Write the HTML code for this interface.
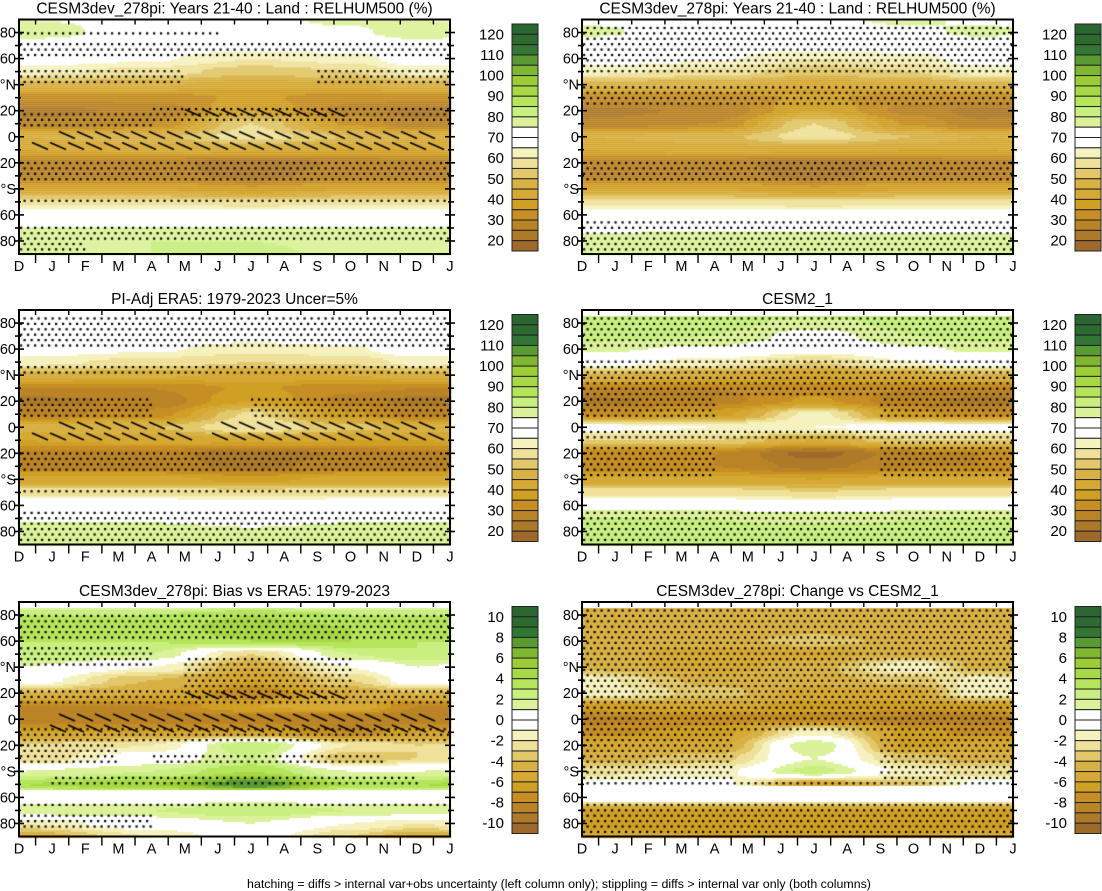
<!DOCTYPE html>
<html><head><meta charset="utf-8">
<style>
html,body{margin:0;padding:0;background:#fff;}
#wrap{position:relative;width:1102px;height:891px;overflow:hidden;font-family:"Liberation Sans",Arial,sans-serif;}
canvas{position:absolute;left:0;top:0;}
svg{position:absolute;left:0;top:0;}
</style></head>
<body>
<div id="wrap">
<canvas id="cv" width="1102" height="891"></canvas>
<svg id="sv" width="1102" height="891" xmlns="http://www.w3.org/2000/svg"></svg>
</div>
<script>
// ---- data ----
const latNodes = [90,80,70,60,50,40,30,20,10,0,-10,-20,-30,-40,-50,-60,-70,-80,-90];
const monthLabels = ['D','J','F','M','A','M','J','J','A','S','O','N','D','J'];
const seasonKeys = [0,4,7,10]; // D, Apr, Jul, Oct
const latTickLabels = ['80','60','°N','20','0','20','°S','60','80'];
const latTickValues = [80,60,40,20,0,-20,-40,-60,-80];
const rhBarLabels = ['120','110','100','90','80','70','60','50','40','30','20'];
const biasBarLabels = ['10','8','6','4','2','0','-2','-4','-6','-8','-10'];
const colorsBrownGreen = ['#a0692c','#ad7a2a','#ba8426','#c68e24','#d0a025','#d6a935','#d8b145','#e2c86a','#efe19a','#f6f2c0','#ffffff','#ffffff','#dcf29a','#c8ef80','#b5e55a','#a7d846','#9ccd36','#80b732','#5a9a32','#317633','#2c6a30','#2a6630'];

const p1D = [75,78,72,70,62,48,32,23,26,45,40,28,28,40,56,72,75,78,78];
const p1A = [74,72,70,66,58,46,32,26,30,48,42,28,28,40,56,72,75,80,80];
const p1J = [74,72,68,60,52,42,36,40,55,58,42,20,23,36,56,70,75,80,82];
const p1O = [76,74,70,62,55,44,32,28,34,50,40,26,28,40,56,72,75,78,78];

const p2D = [72,72,70,70,62,48,30,23,28,48,40,28,28,42,58,72,74,80,80];
const p2A = [72,70,70,66,58,46,30,26,32,50,42,28,28,42,58,72,74,78,78];
const p2J = [70,70,68,62,55,44,36,40,56,60,42,20,23,38,58,70,72,76,76];
const p2O = [72,70,70,64,56,45,31,28,36,52,40,26,28,42,58,72,74,78,80];

const p3D = [74,76,72,70,62,48,32,23,26,45,40,28,28,40,56,72,74,76,78];
const p3A = [74,72,70,66,58,46,32,26,30,48,42,28,28,40,56,72,74,80,80];
const p3J = [74,72,68,60,52,42,36,40,55,58,42,20,23,36,56,70,74,78,80];
const p3O = [76,74,70,62,55,44,32,28,34,50,40,26,28,40,56,72,74,76,78];

const p4D = [85,82,82,76,70,50,30,23,33,68,55,30,30,42,58,72,80,82,82];
const p4A = [85,82,80,74,62,45,30,28,38,65,55,30,30,42,58,72,80,82,82];
const p4J = [85,78,72,68,55,40,33,36,62,65,45,18,23,40,55,72,78,82,82];
const p4O = [85,82,80,74,65,45,30,26,36,68,55,28,30,42,58,72,80,82,82];

const p5D = [0,3,3,3,3,1,0,-4,-8,-9,-6,-3,-3,1,4,0,2,-2,-5];
const p5A = [0,3,3,3,2,-1,-4,-5,-8,-9,-6,-2,0,2,5,0,2,0,-2];
const p5J = [0,4,5,4,-3,-5,-6,-8,-6,-9,-6,3,2,4,8,0,3,1,0];
const p5O = [0,3,4,4,2,-1,-3,-5,-5,-9,-8,-2,-4,1,4,0,2,-1,-3];

const p6D = [-5,-5,-5,-5,-4.5,-4.5,-1.5,-1,-6.5,-8.5,-7.5,-5.5,-4.5,-2.5,-0.5,0,-6,-6.5,-5.5];
const p6A = [-5,-5,-5,-4.5,-5.5,-5.5,-4.5,-3.5,-5.5,-7.5,-6.5,-5.5,-3.5,-1.5,-0.5,0,-6,-6.5,-6];
const p6J = [-5,-5,-4.5,-3.5,-5.5,-4.5,-4.5,-5.5,-6.5,-7.5,-1.5,2,1,2.5,-5.5,0,-6,-6.5,-6];
const p6O = [-5,-5,-5,-4.5,-4.5,-1,-3.5,-5.5,-6.5,-8.5,-6.5,-6.5,-3.5,-1.5,-3.5,0,-6,-6.5,-6];

const masks5 = [[90,85],[-54,-64]];
const masks6 = [[90,85],[-52,-64]];
const masks4 = [[90,85]];

const stip1 = [[0,13,62,75],[0,6,79,81],[0,5,42,52],[9,13,40,52],[0,4,5,20],[4,13,12,25],[0,13,-20,-35],[0,13,-47,-52],[0,13,-66,-80],[0,2,-80,-88]];
const stip2 = [[0,13,62,85],[0,13,40,50],[0,4,5,22],[7,13,5,22],[0,13,-18,-35],[0,13,-45,-50],[0,13,-62,-88]];
const stip3 = [[0,13,50,86],[0,13,25,38],[0,13,-20,-35],[0,13,-62,-90]];
const stip4 = [[0,13,62,85],[0,13,25,52],[0,4,5,25],[9,13,5,25],[0,13,-2,-10],[0,4,-15,-38],[9,13,-10,-38],[4.5,8.5,-39,-40],[0,13,-62,-88]];
const stip5 = [[0,13,62,82],[0,4,40,55],[5,10,20,50],[0,3,-15,-35],[0,13,-5,-20],[0,13,10,22],[4,11,-25,-35],[1,12,-43,-50],[0,13,-63,-66],[0,4,-70,-85],[10,13,-70,-73]];
const stip6 = [[0,13,-90,84]];
const stipHole6 = [[4.5,9,-8,-45],[0,13,-52,-64]];

const hatch1 = [[1,5,8,0],[0,4,-3,-11],[5,10,24,14],[4,13,6,-15]];
const hatch2 = [[1,5,10,0],[0,5,-5,-11],[6,13,10,-11]];
const hatch5 = [[1,5,8,-11],[5,10,23,12],[5,13,3,-14]];

const panels = [
 {title:'CESM3dev_278pi: Years 21-40 : Land : RELHUM500 (%)',x:19,y:19.5,prof:[p1D,p1A,p1J,p1O],lo:20,step:5,masks:[],stip:stip1,holes:[],hatch:hatch1,bar:rhBarLabels},
 {title:'CESM3dev_278pi: Years 21-40 : Land : RELHUM500 (%)',x:582,y:19.5,prof:[p3D,p3A,p3J,p3O],lo:20,step:5,masks:[],stip:stip3,holes:[],hatch:[],bar:rhBarLabels},
 {title:'PI-Adj ERA5: 1979-2023 Uncer=5%',x:19,y:310,prof:[p2D,p2A,p2J,p2O],lo:20,step:5,masks:[],stip:stip2,holes:[],hatch:hatch2,bar:rhBarLabels},
 {title:'CESM2_1',x:582,y:310,prof:[p4D,p4A,p4J,p4O],lo:20,step:5,masks:masks4,stip:stip4,holes:[],hatch:[],bar:rhBarLabels},
 {title:'CESM3dev_278pi: Bias vs ERA5: 1979-2023',x:19,y:602,prof:[p5D,p5A,p5J,p5O],lo:-10,step:1,masks:masks5,stip:stip5,holes:[],hatch:hatch5,bar:biasBarLabels},
 {title:'CESM3dev_278pi: Change vs CESM2_1',x:582,y:602,prof:[p6D,p6A,p6J,p6O],lo:-10,step:1,masks:masks6,stip:stip6,holes:stipHole6,hatch:[],bar:biasBarLabels}
];
const PW=431, PH=234.5;

// ---- helpers ----
const cv=document.getElementById('cv'), ctx=cv.getContext('2d');
const sv=document.getElementById('sv'), NS='http://www.w3.org/2000/svg';
function xScale(p,t){return p.x + t/13*PW;}
function yScale(p,lat){return p.y + (90-lat)/180*PH;}
function latInterp(arr,lat){
  let f=(90-lat)/10; let i=Math.floor(f); if(i>=18){return arr[18];} if(i<0)return arr[0];
  let r=f-i; r=(1-Math.cos(Math.PI*r))/2; return arr[i]*(1-r)+arr[i+1]*r;
}
function valueAt(p,t,lat){
  const keys=[seasonKeys[0],seasonKeys[1],seasonKeys[2],seasonKeys[3],12,16];
  const pr=[p.prof[0],p.prof[1],p.prof[2],p.prof[3],p.prof[0],p.prof[1]];
  let k=0; while(k<keys.length-2 && t>keys[k+1]) k++;
  let r=(t-keys[k])/(keys[k+1]-keys[k]); r=(1-Math.cos(Math.PI*r))/2;
  return latInterp(pr[k],lat)*(1-r)+latInterp(pr[k+1],lat)*r;
}
function inRegions(list,t,lat){
  for(const g of list){
    const hi=Math.max(g[2],g[3]), lo=Math.min(g[2],g[3]);
    if(t>=g[0]&&t<=g[1]&&lat<=hi&&lat>=lo) return true;
  } return false;
}
function mk(tag,attrs,parent){const e=document.createElementNS(NS,tag);for(const k in attrs)e.setAttribute(k,attrs[k]);(parent||sv).appendChild(e);return e;}

// ---- draw ----
panels.forEach((p,pi)=>{
  for(let px=0;px<PW;px+=2){
    const t=(px+1)/PW*13;
    for(let py=0;py<PH;py+=2){
      const lat=90-(py+1)/PH*180;
      let masked=false; for(const m of p.masks){ if(lat<=m[0]&&lat>=m[1]) masked=true; }
      let col='#ffffff';
      if(!masked){
        const v=valueAt(p,t,lat);
        let idx=Math.floor((v-p.lo)/p.step)+1; idx=Math.max(0,Math.min(21,idx));
        col=colorsBrownGreen[idx];
      }
      ctx.fillStyle=col; ctx.fillRect(p.x+px,p.y+py,2.2,2.2);
    }
  }
  ctx.fillStyle='#000';
  let row=0;
  for(let yy=p.y+3; yy<p.y+PH-1; yy+=5.4,row++){
    const off=(row%2)*3.5;
    for(let xx=p.x+2+off; xx<p.x+PW-1; xx+=7){
      const t=(xx-p.x)/PW*13, lat=90-(yy-p.y)/PH*180;
      if(inRegions(p.stip,t,lat) && !inRegions(p.holes,t,lat)){
        ctx.fillRect(xx-1,yy-1,2.2,2.2);
      }
    }
  }
  ctx.strokeStyle='#000'; ctx.lineWidth=1.5;
  for(let yy=p.y+2; yy<p.y+PH; yy+=11){
    for(let xx=p.x+4+((yy-p.y)%22<11?0:9); xx<p.x+PW-14; xx+=18){
      const t=(xx+7-p.x)/PW*13, lat=90-(yy+3-p.y)/PH*180;
      if(inRegions(p.hatch,t,lat)){
        ctx.beginPath(); ctx.moveTo(xx,yy); ctx.lineTo(xx+16,yy+7); ctx.stroke();
      }
    }
  }
  const g=mk('g',{});
  
  
  const fr=mk('rect',{x:p.x,y:p.y,width:PW,height:PH,fill:'none',stroke:'#000','stroke-width':2},g);
  
  
  const tt=mk('text',{x:p.x+PW/2,y:p.y-6,'text-anchor':'middle','font-size':15.5,fill:'#000'},g);
  tt.textContent=p.title;
  
  
  for(let lat=-80;lat<=80;lat+=10){
    const y=yScale(p,lat), major=(lat%20===0);
    mk('line',{x1:p.x-(major?5:4),x2:p.x+(major?5:2),y1:y,y2:y,stroke:'#000','stroke-width':1.6},g);
    mk('line',{x1:p.x+PW+(major?5:4),x2:p.x+PW-(major?5:2),y1:y,y2:y,stroke:'#000','stroke-width':1.6},g);
  }
  latTickValues.forEach((lv,i)=>{
    const tx=mk('text',{x:p.x-3,y:yScale(p,lv)+5,'text-anchor':'end','font-size':14.5,fill:'#000'},g);
    tx.textContent=latTickLabels[i];
    
    
  });
  for(let i=0;i<13;i++){
    const x=xScale(p,i+0.5);
    mk('line',{x1:x,x2:x,y1:p.y+PH,y2:p.y+PH+9,stroke:'#000','stroke-width':1.4},g);
    mk('line',{x1:x,x2:x,y1:p.y,y2:p.y+5,stroke:'#000','stroke-width':1.4},g);
  }
  monthLabels.forEach((m,i)=>{
    const tx=mk('text',{x:xScale(p,i),y:p.y+PH+17,'text-anchor':'middle','font-size':14.5,fill:'#000'},g);
    tx.textContent=m;
    
    
  });
  const bx=(p.x<300)?512:1075, by=p.y+4.5, bh=227, bw=26, n=22, bhh=bh/n;
  const cb=mk('g',{},g);
  
  
  for(let k=0;k<n;k++){
    mk('rect',{x:bx,y:by+k*bhh,width:bw,height:bhh,fill:colorsBrownGreen[n-1-k],stroke:'#222','stroke-width':1},cb);
  }
  p.bar.forEach((lab,i)=>{
    const tx=mk('text',{x:bx-8,y:by+bhh*(1+2*i)+5,'text-anchor':'end','font-size':15,fill:'#000'},cb);
    tx.textContent=lab;
    
    
  });
});
const ft=mk('text',{x:559,y:888,'text-anchor':'middle','font-size':12.4,fill:'#000'});
ft.textContent='hatching = diffs > internal var+obs uncertainty (left column only); stippling = diffs > internal var only (both columns)';


</script>
</body></html>
